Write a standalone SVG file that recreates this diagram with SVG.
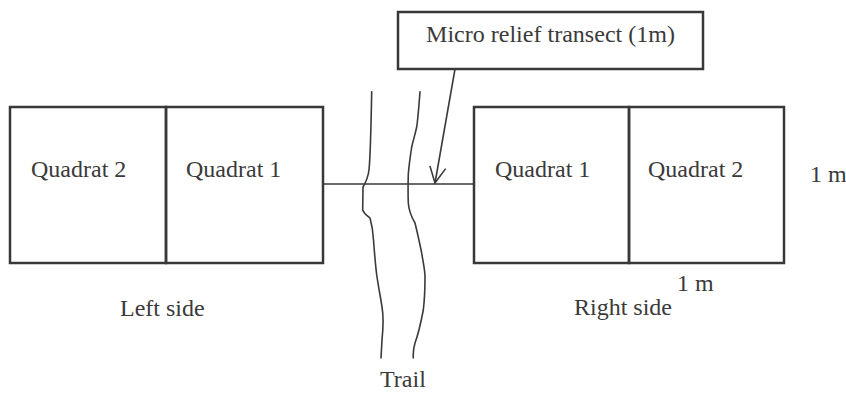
<svg xmlns="http://www.w3.org/2000/svg" width="846" height="393" viewBox="0 0 846 393">
<style>
.box{fill:none;stroke:#383838;stroke-width:2.5}
.ln{fill:none;stroke:#3a3a3a;stroke-width:1.6;stroke-linecap:round;stroke-linejoin:round}
text{font-family:"Liberation Serif","Times New Roman",serif;font-size:24px;fill:#3a3a3a}
</style>
<defs>
<marker id="arr" viewBox="0 0 20 20" refX="18" refY="10" markerWidth="20" markerHeight="20" markerUnits="userSpaceOnUse" orient="auto">
<path d="M2,2 L18,10 L2,18" fill="none" stroke="#3a3a3a" stroke-width="1.6"/>
</marker>
</defs>
<rect width="846" height="393" fill="#fff"/>
<g id="label">
<rect class="box" x="398" y="12" width="305" height="57" stroke-width="2"/>
<text x="426" y="42" textLength="249" lengthAdjust="spacingAndGlyphs">Micro relief transect (1m)</text>
</g>
<g id="left-q2">
<rect class="box" x="10" y="107" width="156" height="156"/>
<text x="31" y="177">Quadrat 2</text>
</g>
<g id="left-q1">
<rect class="box" x="166" y="107" width="157" height="156"/>
<text x="186" y="177">Quadrat 1</text>
</g>
<g id="right-q1">
<rect class="box" x="474" y="107" width="155" height="156"/>
<text x="495" y="177">Quadrat 1</text>
</g>
<g id="right-q2">
<rect class="box" x="629" y="107" width="155" height="156"/>
<text x="648" y="177">Quadrat 2</text>
</g>
<g id="trail">
<path class="ln" d="M371.7,91.7 C371,130 370,160 369,170 C368,178 366,182 363,187 L362.7,210 C364,214 368,216 370,218 C372,225 373,230 373.5,240 C375,260 376,270 377,277 C379,290 381,300 382,307 C384,318 383,330 382,340 L381,358"/>
<path class="ln" d="M420,91.7 C419,105 418,118 416.7,127 C415,135 413,141 411.7,147 C410,158 409,166 408.3,174 C408,185 408,195 408.3,203 C409,212 412,218 415,223 C418,235 420,245 421.7,253 C423,262 425,270 425,277 C425,290 424.5,300 423.3,310 C421,322 418,335 415,343 C413,350 413,354 413.3,358"/>
<text x="380" y="387">Trail</text>
</g>
<g id="connectors">
<line class="ln" x1="323" y1="184" x2="474" y2="184" stroke-width="2.2"/>
<line class="ln" x1="455" y1="69" x2="435" y2="183" marker-end="url(#arr)"/>
</g>
<g id="labels">
<text x="120" y="316">Left side</text>
<text x="574" y="315">Right side</text>
<text x="677" y="291">1 m</text>
<text x="810" y="182">1 m</text>
</g>
</svg>
